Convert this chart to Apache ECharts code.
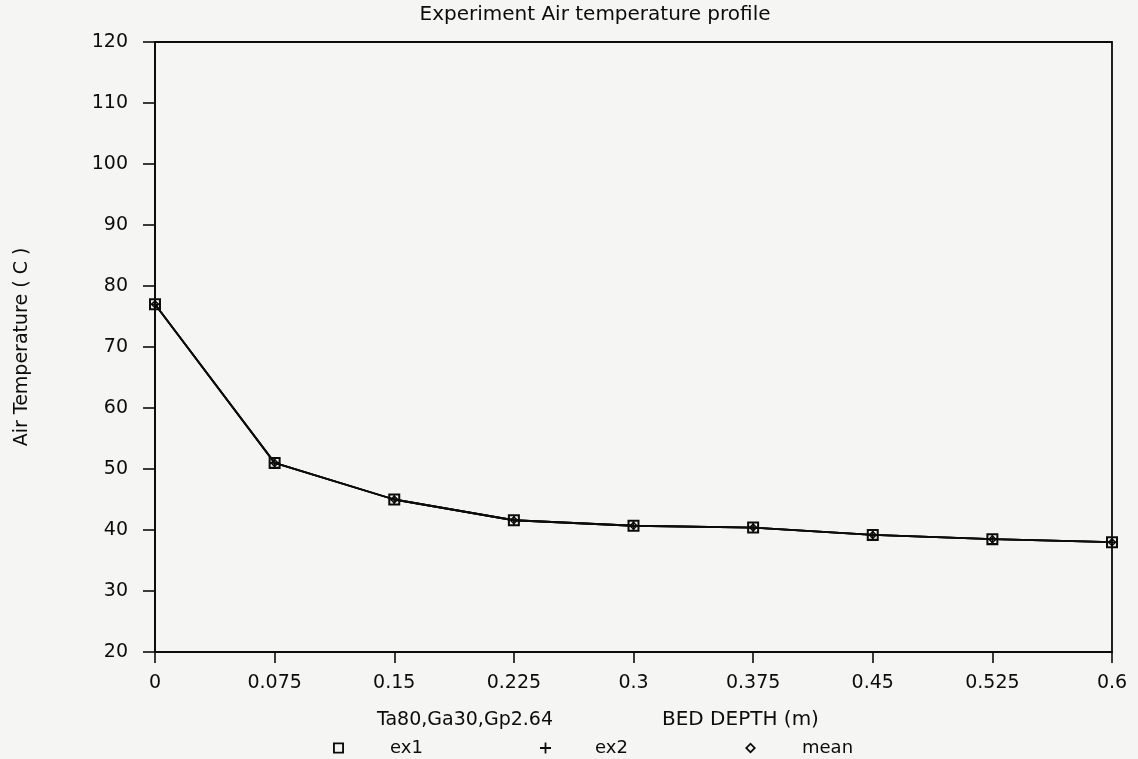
<!DOCTYPE html>
<html>
<head>
<meta charset="utf-8">
<title>Experiment Air temperature profile</title>
<script src="https://cdn.jsdelivr.net/npm/echarts@6/dist/echarts.min.js"></script>
<style>
  html, body { margin: 0; padding: 0; background: #f5f5f3; }
  #chart { width: 1138px; height: 759px; }
</style>
</head>
<body>
<div id="chart"></div>
<script>
// Bed depth positions (m) and measured air temperatures (C)
const bedDepth = [0, 0.075, 0.15, 0.225, 0.3, 0.375, 0.45, 0.525, 0.6];
const ex1Temp  = [77.0, 51.0, 45.0, 41.6, 40.7, 40.4, 39.2, 38.5, 38.0];
const ex2Temp  = [77.0, 51.0, 45.0, 41.6, 40.7, 40.4, 39.2, 38.5, 38.0];
const meanTemp = [77.0, 51.0, 45.0, 41.6, 40.7, 40.4, 39.2, 38.5, 38.0];

const xTickLabels = ['0', '0.075', '0.15', '0.225', '0.3', '0.375', '0.45', '0.525', '0.6'];
const yTickLabels = ['20', '30', '40', '50', '60', '70', '80', '90', '100', '110', '120'];

const titleText = 'Experiment Air temperature profile';
const yAxisTitle = 'Air Temperature ( C )';
const xAxisTitle = 'BED DEPTH (m)';
const runConditions = 'Ta80,Ga30,Gp2.64';

// hollow square, plus and hollow diamond marks
const SQUARE  = 'path://M0,0H10V10H0Z M1.7,1.7V8.3H8.3V1.7Z';
const PLUS    = 'path://M4.2,0H5.8V4.2H10V5.8H5.8V10H4.2V5.8H0V4.2H4.2Z';
const DIAMOND = 'path://M5,0L10,5L5,10L0,5Z M5,2.3L2.3,5L5,7.7L7.7,5Z';

const FONT = 'DejaVu Sans';
const INK = '#0c0c0c';

const pairs = arr => bedDepth.map((d, i) => [d, arr[i]]);

function makeSeries(name, values, symbol, size) {
  return {
    name: name,
    type: 'line',
    data: pairs(values),
    symbol: symbol,
    symbolSize: size,
    showSymbol: true,
    lineStyle: { color: INK, width: 1.8 },
    itemStyle: { color: INK },
    emphasis: { disabled: true },
    animation: false
  };
}

function makeLegend(name, icon, left, textShift) {
  return {
    show: true,
    data: [{ name: name, icon: icon }],
    left: left,
    top: 739,
    padding: 0,
    itemWidth: 11,
    itemHeight: 11,
    selectedMode: false,
    itemStyle: { color: INK, borderWidth: 0 },
    textStyle: {
      fontFamily: FONT, fontSize: 18, color: INK,
      padding: [0, 0, 0, textShift]
    }
  };
}

const chart = echarts.init(document.getElementById('chart'), null, { renderer: 'canvas' });

chart.setOption({
  backgroundColor: '#f5f5f3',
  animation: false,
  title: {
    text: titleText,
    left: 590,
    textAlign: 'center',
    top: 0,
    textStyle: { fontFamily: FONT, fontSize: 20, fontWeight: 'normal', color: INK }
  },
  grid: {
    left: 155, right: 26, top: 42, bottom: 107,
    show: true, borderColor: INK, borderWidth: 1.8, backgroundColor: 'transparent'
  },
  xAxis: {
    type: 'value',
    min: 0, max: 0.6, interval: 0.075,
    axisLine: { show: true, lineStyle: { color: INK, width: 1.8 } },
    axisTick: { show: true, inside: false, length: 11, lineStyle: { color: INK, width: 1.6 } },
    splitLine: { show: false },
    axisLabel: {
      margin: 22,
      fontFamily: FONT, fontSize: 19, color: INK,
      formatter: v => xTickLabels[Math.round(v / 0.075)]
    }
  },
  yAxis: {
    type: 'value',
    min: 20, max: 120, interval: 10,
    name: yAxisTitle,
    nameLocation: 'middle',
    nameGap: 123,
    nameTextStyle: { fontFamily: FONT, fontSize: 19, color: INK },
    axisLine: { show: true, lineStyle: { color: INK, width: 1.8 } },
    axisTick: { show: true, inside: false, length: 12, lineStyle: { color: INK, width: 1.6 } },
    splitLine: { show: false },
    axisLabel: {
      margin: 27,
      fontFamily: FONT, fontSize: 19, color: INK,
      formatter: v => yTickLabels[Math.round((v - 20) / 10)]
    }
  },
  legend: [
    makeLegend('ex1', SQUARE, 333, 41),
    makeLegend('ex2', PLUS, 540, 39),
    makeLegend('mean', DIAMOND, 745, 41)
  ],
  graphic: [
    {
      type: 'text', left: 377, top: 711,
      style: { text: runConditions, fontFamily: FONT, fontSize: 19, fill: INK }
    },
    {
      type: 'text', left: 662, top: 710,
      style: { text: xAxisTitle, fontFamily: FONT, fontSize: 20, fill: INK }
    }
  ],
  series: [
    makeSeries('ex1', ex1Temp, SQUARE, 12),
    makeSeries('ex2', ex2Temp, PLUS, 10),
    makeSeries('mean', meanTemp, DIAMOND, 9)
  ]
});
</script>
</body>
</html>
